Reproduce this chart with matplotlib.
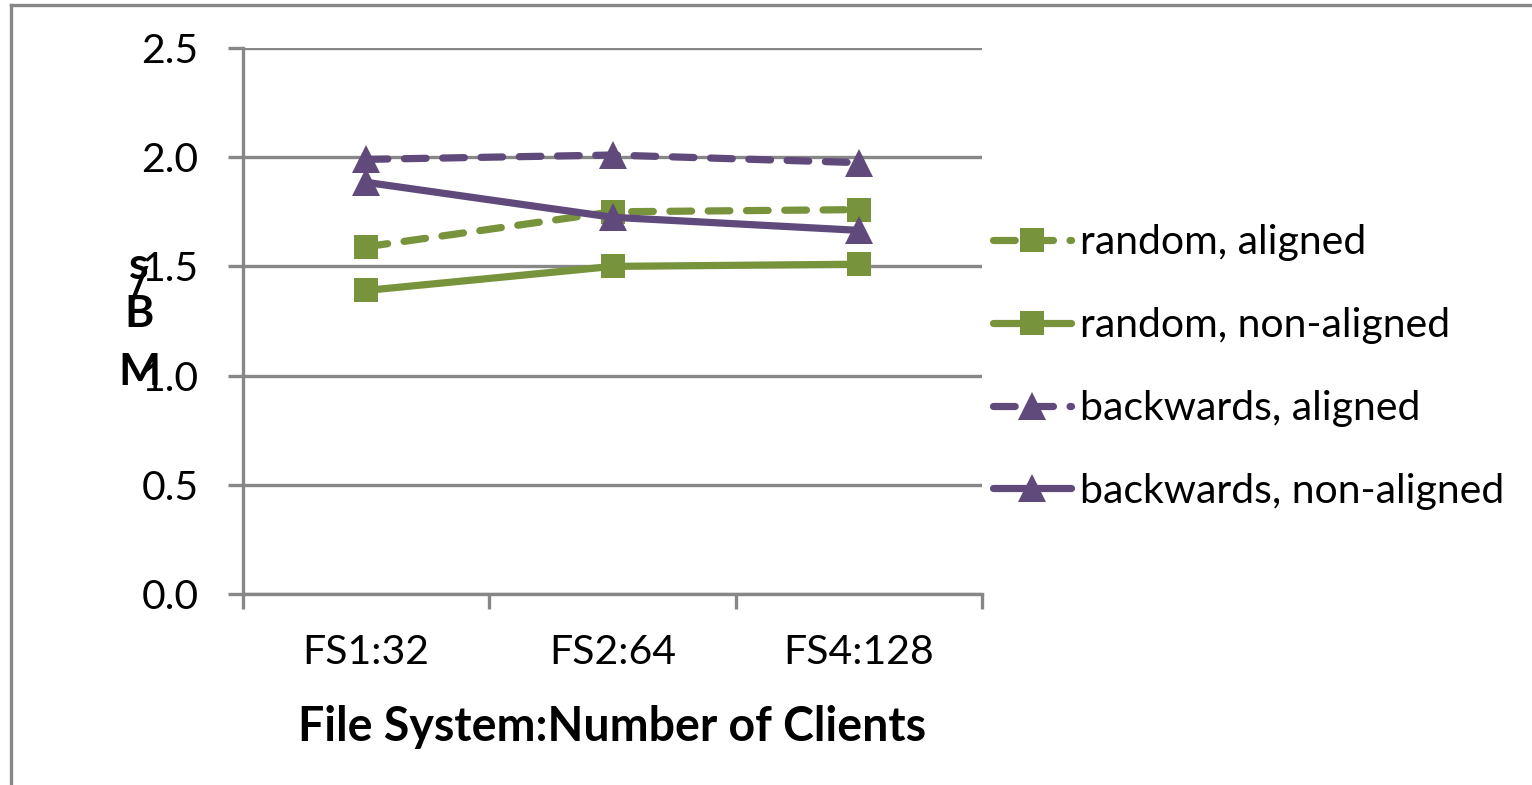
import matplotlib
matplotlib.use("Agg")
import matplotlib.pyplot as plt
from matplotlib.lines import Line2D

plt.rcParams['font.family'] = ['Lato', 'DejaVu Sans']

categories = ["FS1:32", "FS2:64", "FS4:128"]
random_aligned = [1.59, 1.75, 1.76]
random_nonaligned = [1.39, 1.50, 1.51]
backwards_aligned = [1.99, 2.01, 1.975]
backwards_nonaligned = [1.885, 1.725, 1.665]
yticks = [0.0, 0.5, 1.0, 1.5, 2.0, 2.5]

GREEN = "#77933C"
PURPLE = "#604A7B"
GRID = "#878787"

W, H, DPI = 1532, 785, 100
fig = plt.figure(figsize=(W / DPI, H / DPI), dpi=DPI)

# chart area border (left and top edges)
fig.add_artist(Line2D([11 / W, 11 / W], [0, 1 - 5 / H], color=GRID, lw=2.4,
                      transform=fig.transFigure, solid_capstyle='projecting'))
fig.add_artist(Line2D([11 / W, 1.01], [1 - 5 / H, 1 - 5 / H], color=GRID, lw=2.4,
                      transform=fig.transFigure, solid_capstyle='projecting'))

left, right = 243 / W, 982 / W
top, bottom = 1 - 48 / H, 1 - 594 / H
ax = fig.add_axes([left, bottom, right - left, top - bottom])

x = list(range(len(categories)))
series = [
    ("random, aligned", random_aligned, GREEN, 's', True),
    ("random, non-aligned", random_nonaligned, GREEN, 's', False),
    ("backwards, aligned", backwards_aligned, PURPLE, '^', True),
    ("backwards, non-aligned", backwards_nonaligned, PURPLE, '^', False),
]
for i, (label, vals, col, mk, dashed) in enumerate(series):
    ms = 17.5 if mk == 's' else 20
    ls = (0, (3.0, 2.3)) if dashed else '-'
    ax.plot(x, vals, color=col, lw=5.2, linestyle=ls, marker=mk, markersize=ms,
            markeredgewidth=0, label=label, dash_capstyle='round',
            solid_capstyle='round', zorder=3 + i, clip_on=False)

ax.set_xlim(-0.5, len(categories) - 0.5)
ax.set_ylim(0, 2.5)
ax.set_yticks(yticks)
ax.set_yticklabels([f"{v:.1f}" for v in yticks])
ax.yaxis.grid(True, color=GRID, lw=2.4)
ax.set_axisbelow(True)

# category boundaries as major ticks, labels on minor ticks
ax.set_xticks([i - 0.5 for i in range(len(categories) + 1)])
ax.set_xticklabels([])
ax.set_xticks(x, minor=True)
ax.set_xticklabels(categories, minor=True)
ax.tick_params(axis='x', which='major', length=11, width=2.4, color=GRID)
ax.tick_params(axis='x', which='minor', length=0, pad=29, labelsize=29.5)
ax.tick_params(axis='y', length=11, width=2.4, color=GRID, pad=21, labelsize=29.5)

for s in ['top', 'right']:
    ax.spines[s].set_visible(False)
for s in ['left', 'bottom']:
    ax.spines[s].set_color(GRID)
    ax.spines[s].set_linewidth(2.4)

ax.set_xlabel("File System:Number of Clients", fontsize=33.5, fontweight='bold',
              labelpad=24)

# stacked vertical unit label
for ch, yy in [("s", 266), ("/", 286), ("B", 314), ("M", 372)]:
    fig.text(139 / W, 1 - yy / H, ch, fontsize=32, fontweight='bold',
             ha='center', va='center')

leg = ax.legend(loc='center left', bbox_to_anchor=(993 / W, 1 - 367 / H),
                bbox_transform=fig.transFigure, frameon=False, fontsize=29.5,
                handlelength=1.9, handletextpad=0.22, labelspacing=1.12,
                borderaxespad=0, borderpad=0)

fig.savefig("out.png", dpi=DPI, facecolor='white')
